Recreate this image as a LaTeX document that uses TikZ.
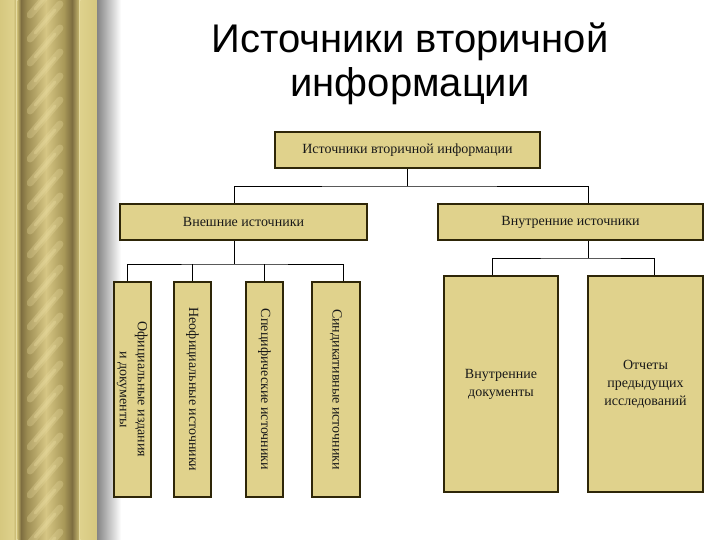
\documentclass[tikz,border=0pt]{standalone}
\usepackage{fontspec}
\usepackage{graphicx}
\setmainfont{Liberation Serif}
\newfontfamily\titlefont{Liberation Sans}
\definecolor{boxfill}{HTML}{E0D28C}
\definecolor{boxline}{HTML}{2E2608}
\definecolor{colA}{HTML}{D6C87F}
\definecolor{colB}{HTML}{DED18C}
\definecolor{colC}{HTML}{C4B56E}
\definecolor{colL}{HTML}{E6DCA2}
\definecolor{colD}{HTML}{7E6E40}
\definecolor{colG1}{HTML}{9C8C52}
\definecolor{colG2}{HTML}{D6C684}
\definecolor{colG3}{HTML}{A89858}
\definecolor{colS}{HTML}{EADCA0}
\begin{document}
\begin{tikzpicture}[x=1pt,y=-1pt,
  box/.style={draw=boxline, line width=1.1pt, fill=boxfill, inner sep=0pt,
    font=\fontsize{14}{18}\selectfont, text=black!90, align=center},
  conn/.style={draw=black, line width=0.8pt},
  strip/.style={draw=none}]
\useasboundingbox (0,0) rectangle (720,540);
\fill[white] (0,0) rectangle (720,540);
% decorative column
\shade[strip, left color=colA, right color=colB] (0,0) rectangle (13,540);
\shade[strip, left color=colB, right color=colC] (13,0) rectangle (16,540);
\fill[colL] (16,0) rectangle (17.5,540);
\shade[strip, left color=colC, right color=colD] (17.5,0) rectangle (21,540);
\shade[strip, left color=colD, right color=colG1] (21,0) rectangle (27,540);
\shade[strip, left color=colG1, right color=colG2] (27,0) rectangle (46,540);
\shade[strip, left color=colG2, right color=colG3] (46,0) rectangle (64,540);
\shade[strip, left color=colG3, right color=colD] (64,0) rectangle (72,540);
\shade[strip, left color=colD, right color=colC] (72,0) rectangle (79,540);
\fill[colL] (79,0) rectangle (80.5,540);
\shade[strip, left color=colB, right color=colA] (80.5,0) rectangle (97,540);
\begin{scope}
  \clip (27,0) rectangle (68,540);
  \foreach \yy in {-24,0,...,576} {
    \draw[colS, line width=7pt, opacity=0.3, line cap=round] (30,\yy+15) -- (60,\yy-20);
    \draw[colS, line width=3pt, opacity=0.35, line cap=round] (35,\yy+9) -- (55,\yy-14);
  }
\end{scope}
\shade[strip, left color=black!48, right color=white] (97,0) rectangle (121,540);
% title
\node[font=\titlefont\fontsize{40}{44}\selectfont, align=center, anchor=base] (title) at (410,97)
  {Источники вторичной\\информации};
% boxes
\node[box, minimum width=265pt, minimum height=36pt] (top) at (407.5,150) {Источники вторичной информации};
\node[box, minimum width=247pt, minimum height=36pt] (ext) at (243.5,222) {Внешние источники};
\node[box, minimum width=265pt, minimum height=36pt] (int) at (570.5,222) {Внутренние источники};
\node[box, minimum width=37pt, minimum height=215pt] (v1) at (132.5,389.5)
  {\rotatebox{-90}{\begin{tabular}{@{}c@{}}Официальные издания\\и документы\end{tabular}}};
\node[box, minimum width=37pt, minimum height=215pt] (v2) at (192.5,389.5)
  {\rotatebox{-90}{Неофициальные источники}};
\node[box, minimum width=37pt, minimum height=215pt] (v3) at (264.5,389.5)
  {\rotatebox{-90}{Специфические источники}};
\node[box, minimum width=48pt, minimum height=215pt] (v4) at (336,389.5)
  {\rotatebox{-90}{Синдикативные источники}};
\node[box, minimum width=114pt, minimum height=216pt] (r1) at (501,384)
  {Внутренние\\документы};
\node[box, minimum width=115pt, minimum height=216pt] (r2) at (645.5,384)
  {Отчеты\\предыдущих\\исследований};
% junctions
\coordinate (j1) at (407.5,186);
\coordinate (j2) at (234,264);
\coordinate (j3) at (588,258);
% connectors
\draw[conn] (top.south) -- (j1);
\draw[conn] ([xshift=-9.5pt]ext.north) |- (j1) -| ([xshift=17.5pt]int.north);
\draw[conn] ([xshift=-9.5pt]ext.south) -- (j2);
\draw[conn] ([xshift=-5.5pt]v1.north) |- (j2) -| ([xshift=7pt]v4.north);
\draw[conn] (v2.north) -- (v2.north |- j2);
\draw[conn] (v3.north) -- (v3.north |- j2);
\draw[conn] ([xshift=17.5pt]int.south) -- (j3);
\draw[conn] ([xshift=-9pt]r1.north) |- (j3) -| ([xshift=8.5pt]r2.north);
\end{tikzpicture}
\end{document}
